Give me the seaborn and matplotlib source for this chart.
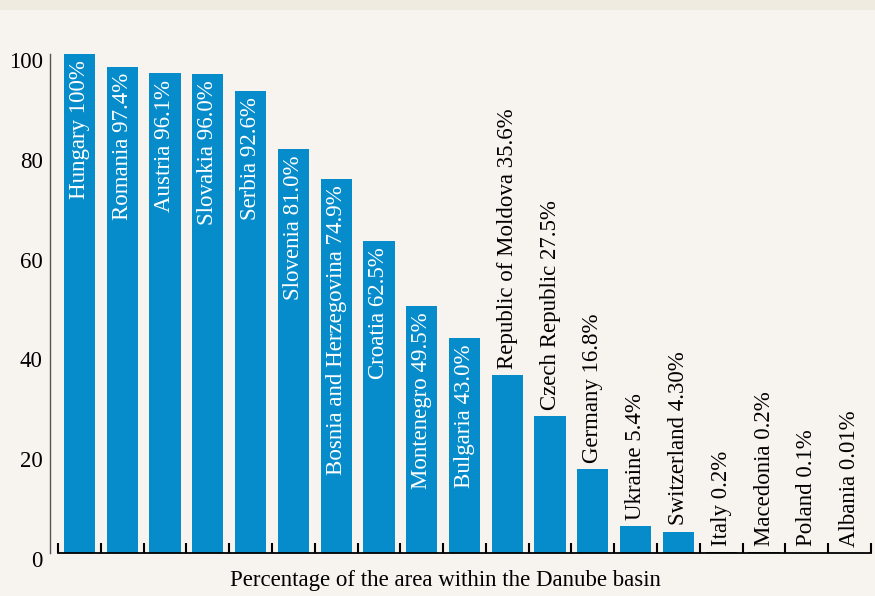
import pandas as pd
import matplotlib.pyplot as plt
import matplotlib.transforms as mtransforms
import seaborn as sns
import numpy as np

# Datos
paises = ['Hungary', 'Romania', 'Austria', 'Slovakia', 'Serbia', 'Slovenia',
          'Bosnia and Herzegovina', 'Croatia', 'Montenegro', 'Bulgaria',
          'Republic of Moldova', 'Czech Republic', 'Germany', 'Ukraine',
          'Switzerland', 'Italy', 'Macedonia', 'Poland', 'Albania']
porcentaje = [100, 97.4, 96.1, 96.0, 92.6, 81.0, 74.9, 62.5, 49.5, 43.0,
              35.6, 27.5, 16.8, 5.4, 4.3, 0.2, 0.2, 0.1, 0.01]
etiquetas = ['100%', '97.4%', '96.1%', '96.0%', '92.6%', '81.0%', '74.9%',
             '62.5%', '49.5%', '43.0%', '35.6%', '27.5%', '16.8%', '5.4%',
             '4.30%', '0.2%', '0.2%', '0.1%', '0.01%']
y_ticks = [0, 20, 40, 60, 80, 100]

df = pd.DataFrame({'pais': paises, 'valor': porcentaje})

sns.set_style('white')
plt.rcParams['font.family'] = ['Liberation Serif', 'DejaVu Serif']
plt.rcParams['text.color'] = 'black'
plt.rcParams['axes.labelcolor'] = 'black'
plt.rcParams['xtick.color'] = 'black'
plt.rcParams['ytick.color'] = 'black'

fondo = '#f7f4ef'
azul = '#078ccb'
colores = [azul if v >= 1 else '#222222' for v in porcentaje]

fig = plt.figure(figsize=(8.75, 5.96), dpi=100, facecolor=fondo)
# franja superior
fig.patches.append(plt.Rectangle((0, 1 - 10 / 596), 1, 10 / 596, transform=fig.transFigure,
                                 facecolor='#efebe1', edgecolor='none', zorder=0))
ax = fig.add_axes([58 / 875, 43 / 596, 813 / 875, 499 / 596])
ax.set_facecolor(fondo)

sns.barplot(data=df, x='pais', y='valor', hue='pais', palette=colores, legend=False,
            width=0.73, saturation=1, linewidth=0, ax=ax)

ax.set_ylim(0, 100)
ax.set_xlim(-0.5, len(paises) - 0.5)

# etiquetas de barras
for i, (p, v, e) in enumerate(zip(paises, porcentaje, etiquetas)):
    txt = f'{p} {e}'
    if v > 40:
        ax.annotate(txt, xy=(i, v), xytext=(0, -4.5), textcoords='offset points',
                    rotation=90, ha='center', va='top', color='white', fontsize=16.5)
    else:
        ax.annotate(txt, xy=(i, v), xytext=(0, 4.5), textcoords='offset points',
                    rotation=90, ha='center', va='bottom', color='black', fontsize=16.5)

# ejes
for s in ['top', 'right']:
    ax.spines[s].set_visible(False)
ax.spines['left'].set_position(('outward', 6))
ax.spines['left'].set_color('#555555')
ax.spines['left'].set_linewidth(1)
ax.spines['bottom'].set_color('black')
ax.spines['bottom'].set_linewidth(1.3)

ax.set_yticks(y_ticks)
ax.set_yticklabels([str(t) for t in y_ticks], fontsize=16.5, color='black')
ax.tick_params(axis='y', left=False, length=0, pad=5)
offset = mtransforms.ScaledTranslation(0, -6 / 100, fig.dpi_scale_trans)
for lab in ax.get_yticklabels():
    lab.set_transform(lab.get_transform() + offset)

ax.set_xticks([])
ax.set_xticks(np.arange(-0.5, len(paises)), minor=True)
ax.tick_params(axis='x', which='minor', bottom=True, direction='in', length=7.5,
               width=1.5, color='black')

ax.set_xlabel('Percentage of the area within the Danube basin', fontsize=16.5, color='black')
ax.xaxis.set_label_coords(0.477, -0.034)
ax.set_ylabel('')

fig.savefig('out.png', dpi=100, facecolor=fondo)
